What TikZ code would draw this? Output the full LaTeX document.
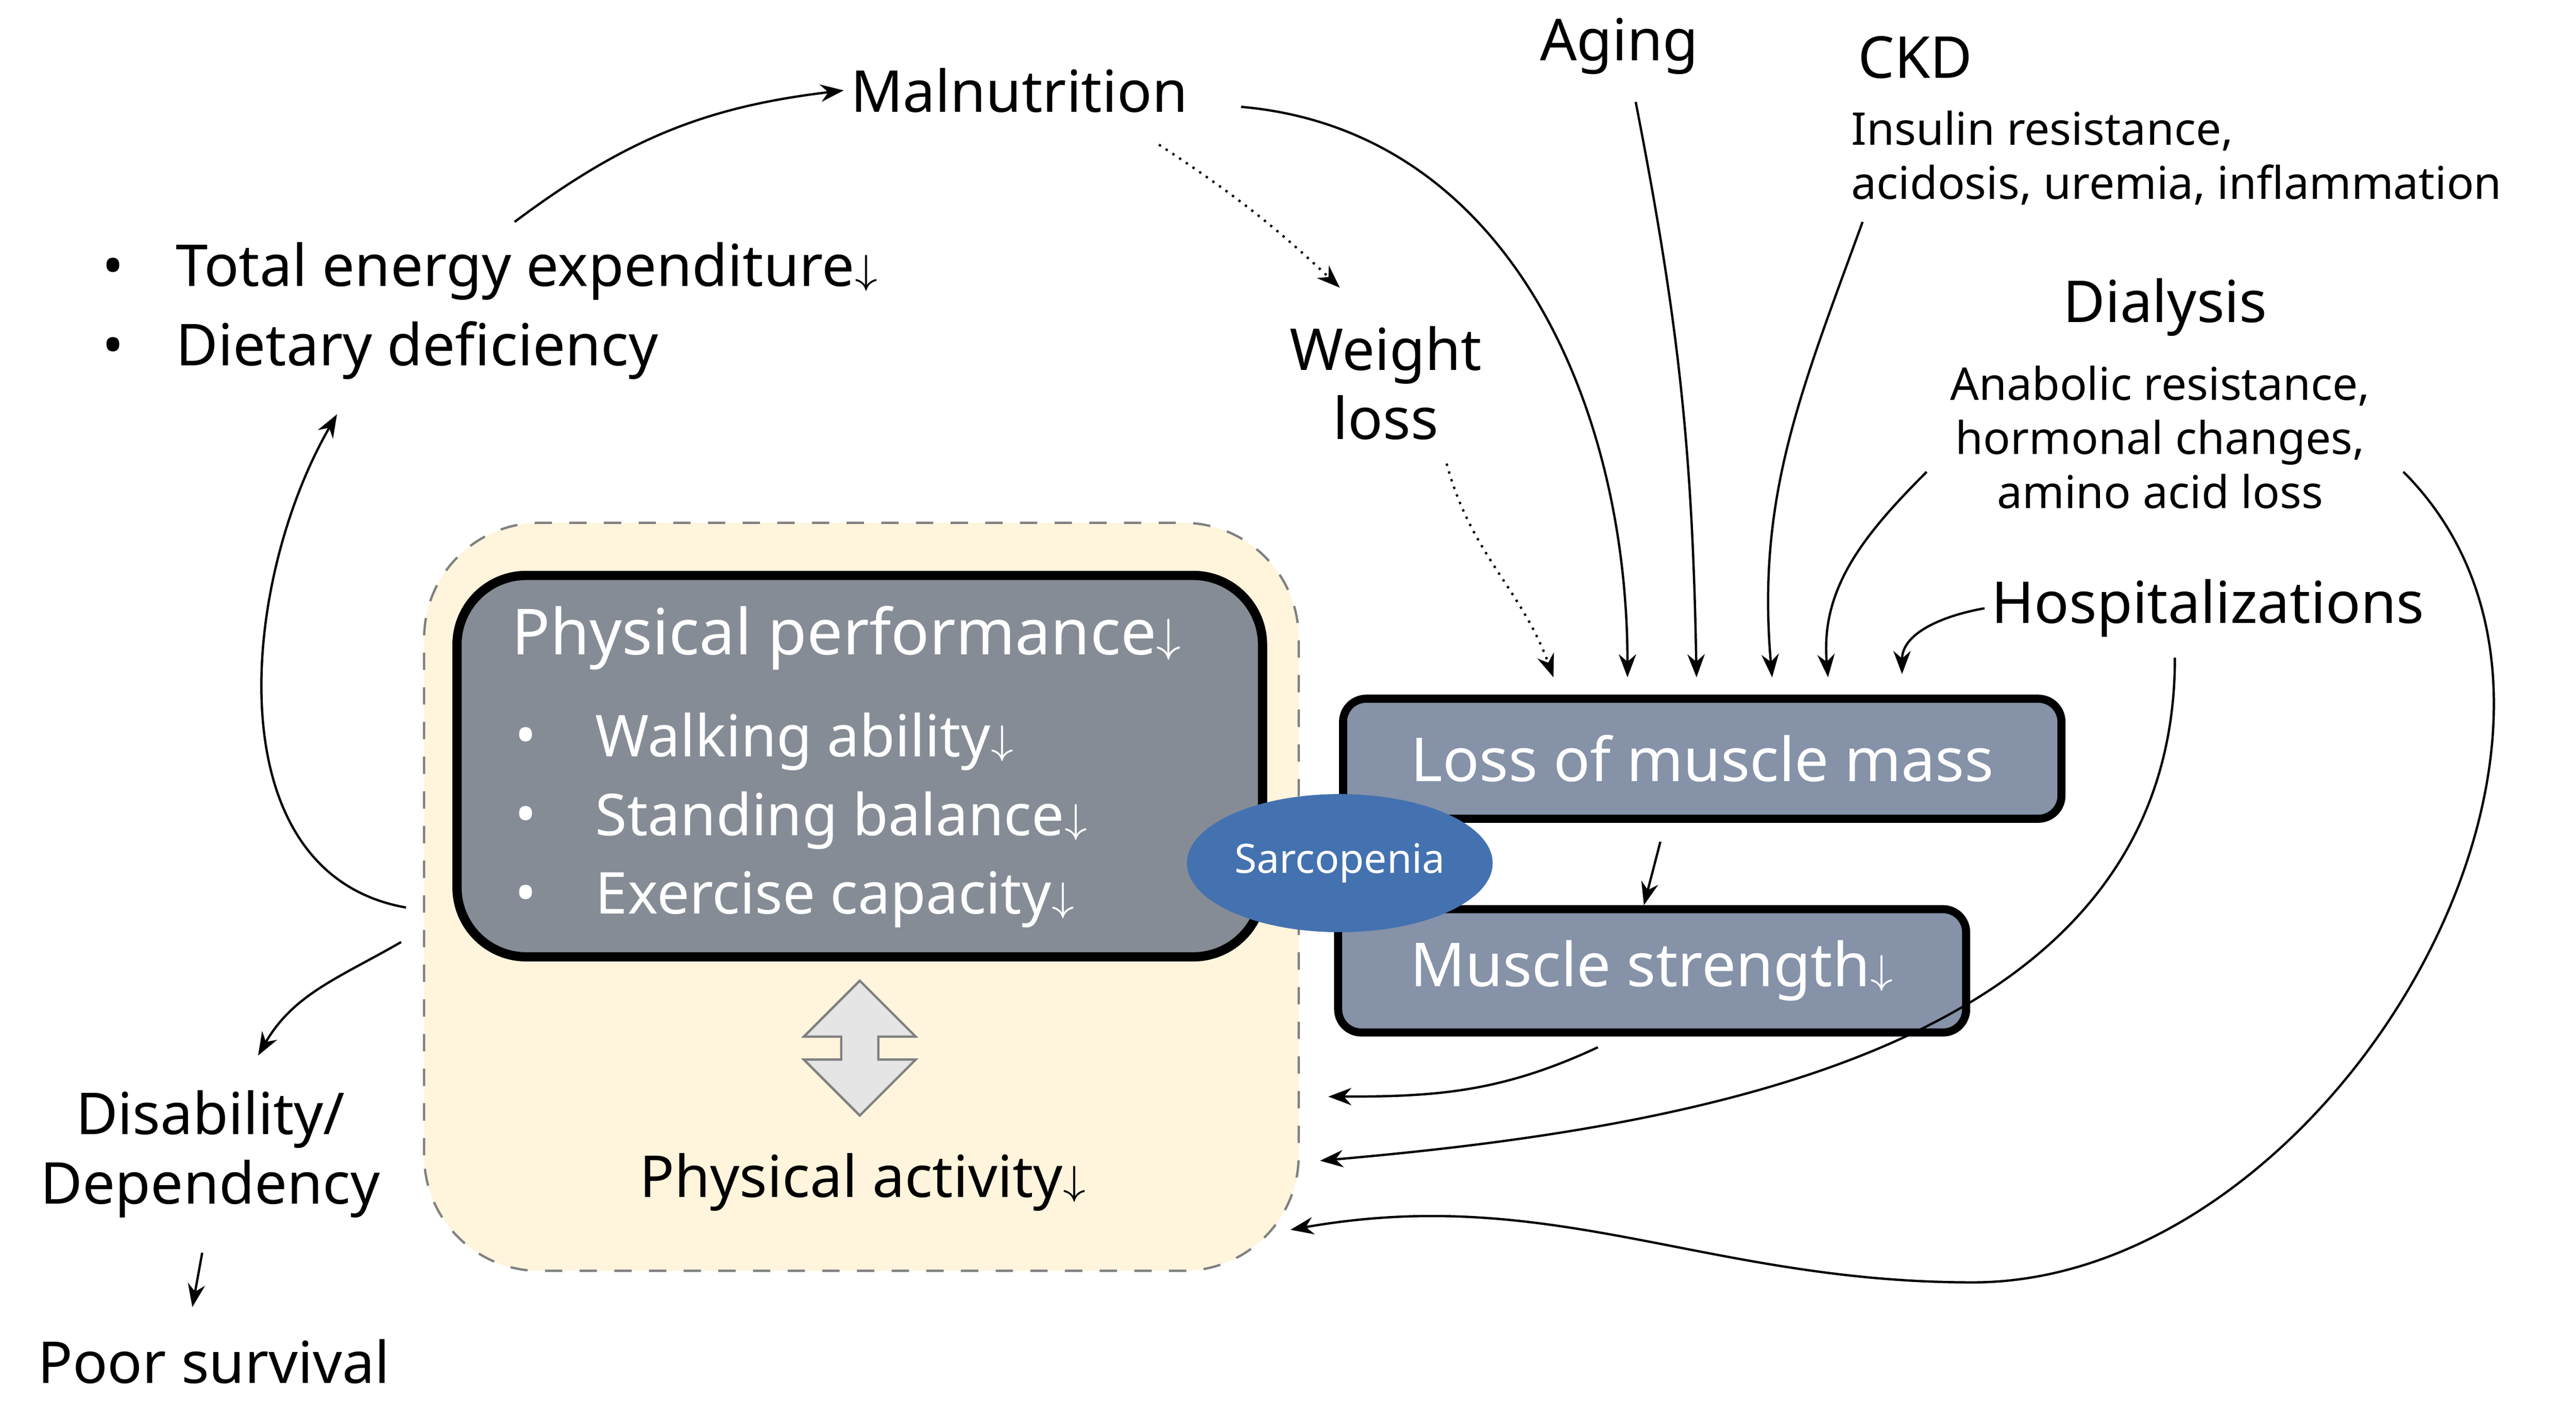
\documentclass[tikz,border=0pt]{standalone}
\usepackage{fontspec}
\setmainfont{Noto Sans}
\usetikzlibrary{arrows.meta,shapes.arrows,shapes.geometric,positioning}
\definecolor{bgyel}{HTML}{FFF4DC}
\definecolor{ppgray}{HTML}{868C95}
\definecolor{mgray}{HTML}{8592A8}
\definecolor{sarco}{HTML}{4472B0}
\newcommand{\dn}{\raisebox{.1ex}{$\scriptstyle\downarrow$}}
\begin{document}
\begin{tikzpicture}[
txt/.style = {font=\fontsize{10}{12}\selectfont, inner sep=1pt},
sub/.style = {font=\fontsize{7.8}{9.4}\selectfont, inner sep=1pt, align=left},
mbox/.style = {draw=black, line width=1.4pt, rounded corners=4pt, fill=mgray, text=white, font=\fontsize{10.5}{12}\bfseries\selectfont},
arr/.style = {-{Stealth[length=4pt,width=3pt]}, thin},
darr/.style = {arr, densely dotted}
]
  \useasboundingbox (0,0) rectangle (15.67,8.52);
  % background and physical performance
  \draw[gray, dashed, fill=bgyel, rounded corners=20pt] (2.58,0.79) rectangle (7.90,5.34);
  \draw[line width=1.6pt, fill=ppgray, rounded corners=12pt] (2.78,2.70) rectangle (7.68,5.02);
  \node[txt, text=white, font=\fontsize{11}{13}\bfseries\selectfont] (pp) at (5.15,4.64) {Physical performance\dn};
  \foreach \y/\t [count=\i] in {4.01/Walking ability\dn, 3.53/Standing balance\dn, 3.05/Exercise capacity\dn} {
    \node[txt, text=white] (pb\i) at (3.20,\y) {•};
    \node[txt, text=white, anchor=west] (pt\i) at (3.58,\y) {\t};
  }
  \node[double arrow, rotate=90, draw=gray, fill=gray!20, minimum height=0.82cm, minimum width=0.68cm, double arrow head extend=0.12cm, inner sep=1.5pt] (da) at (5.23,2.145) {};
  \node[txt] (pa) at (5.25,1.33) {Physical activity\dn};

  % muscle boxes
  \node[mbox, minimum width=4.37cm, minimum height=0.73cm] (loss) at (10.355,3.905) {Loss of muscle mass};
  \node[mbox, minimum width=3.82cm, minimum height=0.75cm] (str) at (10.05,2.615) {Muscle strength\dn};
  \node[ellipse, fill=sarco, text=white, minimum width=1.86cm, minimum height=0.84cm, inner sep=0pt, font=\fontsize{7}{8}\bfseries\selectfont] (sar) at (8.15,3.27) {Sarcopenia};
  \draw[arr] (10.10,3.40) -- (str.north -| 10.00,0);

  % causes
  \node[txt] (maln) at (6.20,7.97) {Malnutrition};
  \node[txt] (aging) at (9.85,8.24) {Aging};
  \node[txt] (ckd) at (11.65,8.17) {CKD};
  \node[sub, anchor=west] (ckds) at (11.22,7.56) {Insulin resistance,\\acidosis, uremia, inflammation};
  \node[txt] (dial) at (13.17,6.65) {Dialysis};
  \node[sub, align=center] (dials) at (13.14,5.86) {Anabolic resistance,\\hormonal changes,\\amino acid loss};
  \node[txt] (hosp) at (13.43,4.82) {Hospitalizations};
  \node[txt, align=center] (wl) at (8.43,6.19) {Weight\\loss};
  \node[txt, anchor=west] (b1) at (0.58,6.87) {•\hspace{0.9em}Total energy expenditure\dn};
  \node[txt, anchor=west] (b2) at (0.58,6.39) {•\hspace{0.9em}Dietary deficiency};
  \node[txt, align=center] (dis) at (1.28,1.50) {Disability/\\Dependency};
  \node[txt] (poor) at (1.30,0.24) {Poor survival};

  % arrow end points
  \coordinate (e1) at (9.45,4.40);
  \coordinate (e2) at (9.90,4.40);
  \coordinate (e3) at (10.32,4.40);
  \coordinate (e4) at (10.78,4.40);
  \coordinate (e5) at (11.12,4.40);
  \coordinate (e6) at (11.57,4.42);
  \coordinate (f1) at (8.08,1.85);
  \coordinate (f2) at (8.03,1.46);
  \coordinate (f3) at (7.85,1.04);

  \draw[arr] (3.13,7.17) to[bend left=15] (maln.west);
  \draw[darr] (7.05,7.64) to[bend left=5] (8.15,6.77);
  \draw[arr] (7.55,7.87) to[out=-5, in=90] (e2);
  \draw[arr] (9.95,7.90) to[bend left=5] (e3);
  \draw[arr] (11.33,7.17) to[out=-110, in=95] (e4);
  \draw[arr] (11.72,5.65) to[out=-135, in=95] (e5);
  \draw[arr] (hosp.west) to[out=190, in=90] (e6);
  \draw[darr] (8.80,5.70) to[out=-75, in=110] (e1);
  \draw[arr] (13.23,4.52) to[out=-90, in=5] (f2);
  \draw[arr] (14.62,5.65) to[out=-45, in=0] (12.00,0.72) to[out=180, in=10] (f3);
  \draw[arr] (9.72,2.15) to[out=-155, in=0] (f1);
  \draw[arr] (2.47,3.00) to[out=170, in=-120] (2.05,6.00);
  \draw[arr] (2.44,2.79) to[out=-150, in=60] (1.57,2.10);
  \draw[arr] (1.23,0.90) -- (1.17,0.57);
\end{tikzpicture}
\end{document}
